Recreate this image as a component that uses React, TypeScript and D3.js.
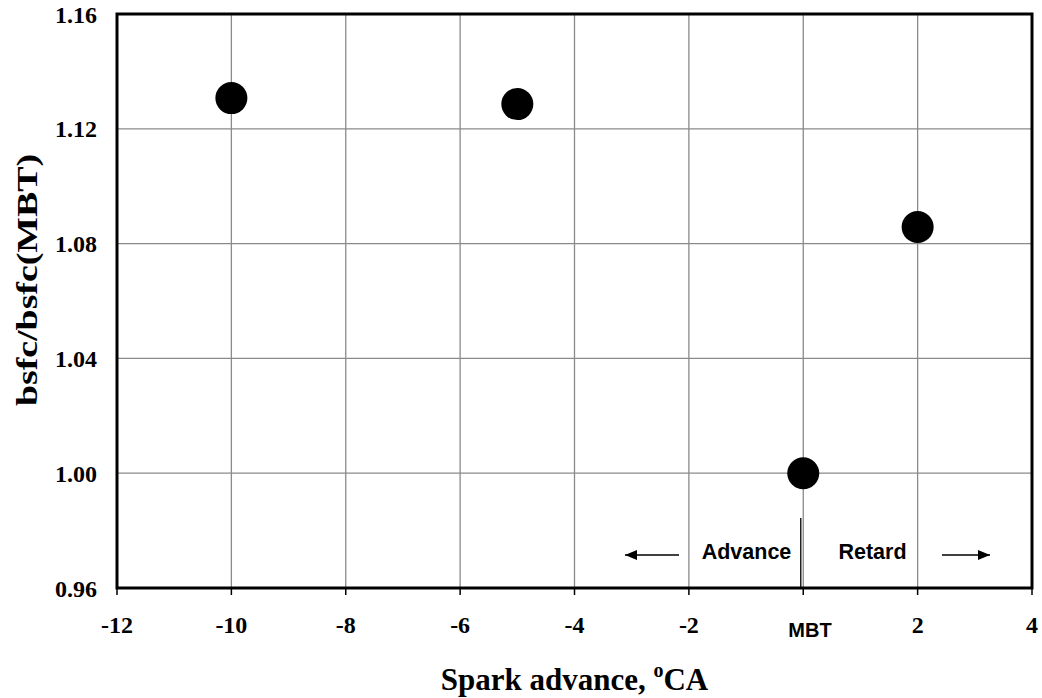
import React, { useEffect, useRef } from "react";
import * as d3 from "d3";

const sparkAdvance = [-10, -5, 0, 2];
const bsfcRatio = [1.1307, 1.1286, 1.0, 1.0858];
const xTicks = [-12, -10, -8, -6, -4, -2, 2, 4];
const xGrid = [-10, -8, -6, -4, -2, 0, 2];
const yTicks = [0.96, 1.0, 1.04, 1.08, 1.12, 1.16];
const yTickLabels = ["0.96", "1.00", "1.04", "1.08", "1.12", "1.16"];

const W = 1042;
const H = 698;
const M = { left: 117, top: 14, right: 10, bottom: 110 };

export default function App() {
  const ref = useRef<SVGSVGElement | null>(null);

  useEffect(() => {
    const svg = d3.select(ref.current);
    svg.selectAll("*").remove();
    const x = d3.scaleLinear().domain([-12, 4]).range([M.left, W - M.right]);
    const y = d3.scaleLinear().domain([0.96, 1.16]).range([H - M.bottom, M.top]);

    const defs = svg.append("defs");
    defs
      .append("marker")
      .attr("id", "ah")
      .attr("viewBox", "0 0 12 10")
      .attr("refX", 12)
      .attr("refY", 5)
      .attr("markerWidth", 12)
      .attr("markerHeight", 10)
      .attr("markerUnits", "userSpaceOnUse")
      .attr("orient", "auto")
      .append("path")
      .attr("d", "M0,0 L12,5 L0,10 Z")
      .attr("fill", "#000");

    const g = svg.append("g");

    // grid
    g.selectAll("line.vg")
      .data(xGrid)
      .enter()
      .append("line")
      .attr("x1", (d) => x(d))
      .attr("x2", (d) => x(d))
      .attr("y1", y(1.16))
      .attr("y2", y(0.96))
      .attr("stroke", "#8a8a8a")
      .attr("stroke-width", 1.3);
    g.selectAll("line.hg")
      .data(yTicks.slice(1, -1))
      .enter()
      .append("line")
      .attr("x1", x(-12))
      .attr("x2", x(4))
      .attr("y1", (d) => y(d))
      .attr("y2", (d) => y(d))
      .attr("stroke", "#8a8a8a")
      .attr("stroke-width", 1.3);

    // x tick marks
    g.selectAll("line.xt")
      .data([-12, -10, -8, -6, -4, -2, 0, 2, 4])
      .enter()
      .append("line")
      .attr("x1", (d) => x(d))
      .attr("x2", (d) => x(d))
      .attr("y1", y(0.96))
      .attr("y2", y(0.96) + 7)
      .attr("stroke", "#000")
      .attr("stroke-width", 1.5);

    // MBT marker line
    g.append("line")
      .attr("x1", x(0) - 2.5)
      .attr("x2", x(0) - 2.5)
      .attr("y1", 518)
      .attr("y2", y(0.96))
      .attr("stroke", "#222")
      .attr("stroke-width", 1.5);

    // frame
    g.append("rect")
      .attr("x", x(-12))
      .attr("y", y(1.16))
      .attr("width", x(4) - x(-12))
      .attr("height", y(0.96) - y(1.16))
      .attr("fill", "none")
      .attr("stroke", "#000")
      .attr("stroke-width", 3);

    // points
    g.selectAll("circle")
      .data(sparkAdvance.map((v, i) => [v, bsfcRatio[i]]))
      .enter()
      .append("circle")
      .attr("cx", (d) => x(d[0]))
      .attr("cy", (d) => y(d[1]))
      .attr("r", 16)
      .attr("fill", "#000");

    // y tick labels
    g.selectAll("text.yl")
      .data(yTicks)
      .enter()
      .append("text")
      .attr("x", 97)
      .attr("y", (d) => y(d) + 8.5)
      .attr("text-anchor", "end")
      .attr("font-family", "'Liberation Serif', 'Times New Roman', serif")
      .attr("font-weight", "bold")
      .attr("font-size", 24)
      .text((d, i) => yTickLabels[i]);

    // x tick labels
    g.selectAll("text.xl")
      .data(xTicks)
      .enter()
      .append("text")
      .attr("x", (d) => x(d))
      .attr("y", 633)
      .attr("text-anchor", "middle")
      .attr("font-family", "'Liberation Serif', 'Times New Roman', serif")
      .attr("font-weight", "bold")
      .attr("font-size", 24)
      .text((d) => String(d));

    const sans = "'Liberation Sans', Arial, sans-serif";
    g.append("text")
      .attr("x", 810)
      .attr("y", 637)
      .attr("text-anchor", "middle")
      .attr("font-family", sans)
      .attr("font-weight", "bold")
      .attr("font-size", 20)
      .text("MBT");

    g.append("text")
      .attr("x", 746.5)
      .attr("y", 559)
      .attr("text-anchor", "middle")
      .attr("font-family", sans)
      .attr("font-weight", "bold")
      .attr("font-size", 21.5)
      .text("Advance");
    g.append("text")
      .attr("x", 872.5)
      .attr("y", 559)
      .attr("text-anchor", "middle")
      .attr("font-family", sans)
      .attr("font-weight", "bold")
      .attr("font-size", 21.5)
      .text("Retard");

    // arrows
    g.append("line")
      .attr("x1", 679)
      .attr("x2", 625)
      .attr("y1", 555)
      .attr("y2", 555)
      .attr("stroke", "#000")
      .attr("stroke-width", 1.5)
      .attr("marker-end", "url(#ah)");
    g.append("line")
      .attr("x1", 942)
      .attr("x2", 990)
      .attr("y1", 555)
      .attr("y2", 555)
      .attr("stroke", "#000")
      .attr("stroke-width", 1.5)
      .attr("marker-end", "url(#ah)");

    // x title
    const xt = g
      .append("text")
      .attr("x", (x(-12) + x(4)) / 2)
      .attr("y", 690)
      .attr("text-anchor", "middle")
      .attr("font-family", "'Liberation Serif', 'Times New Roman', serif")
      .attr("font-weight", "bold")
      .attr("font-size", 31);
    xt.append("tspan").text("Spark advance, ");
    xt.append("tspan").attr("font-size", 20).attr("dy", -13).text("o");
    xt.append("tspan").attr("dy", 13).text("CA");

    // y title
    g.append("text")
      .attr("transform", "translate(37,280) rotate(-90)")
      .attr("text-anchor", "middle")
      .attr("font-family", "'Liberation Serif', 'Times New Roman', serif")
      .attr("font-weight", "bold")
      .attr("font-size", 30)
      .attr("textLength", 252)
      .attr("lengthAdjust", "spacingAndGlyphs")
      .text("bsfc/bsfc(MBT)");
  }, []);

  return (
    <svg
      ref={ref}
      width={W}
      height={H}
      style={{ position: "absolute", left: 0, top: 0, background: "#fff" }}
    />
  );
}
